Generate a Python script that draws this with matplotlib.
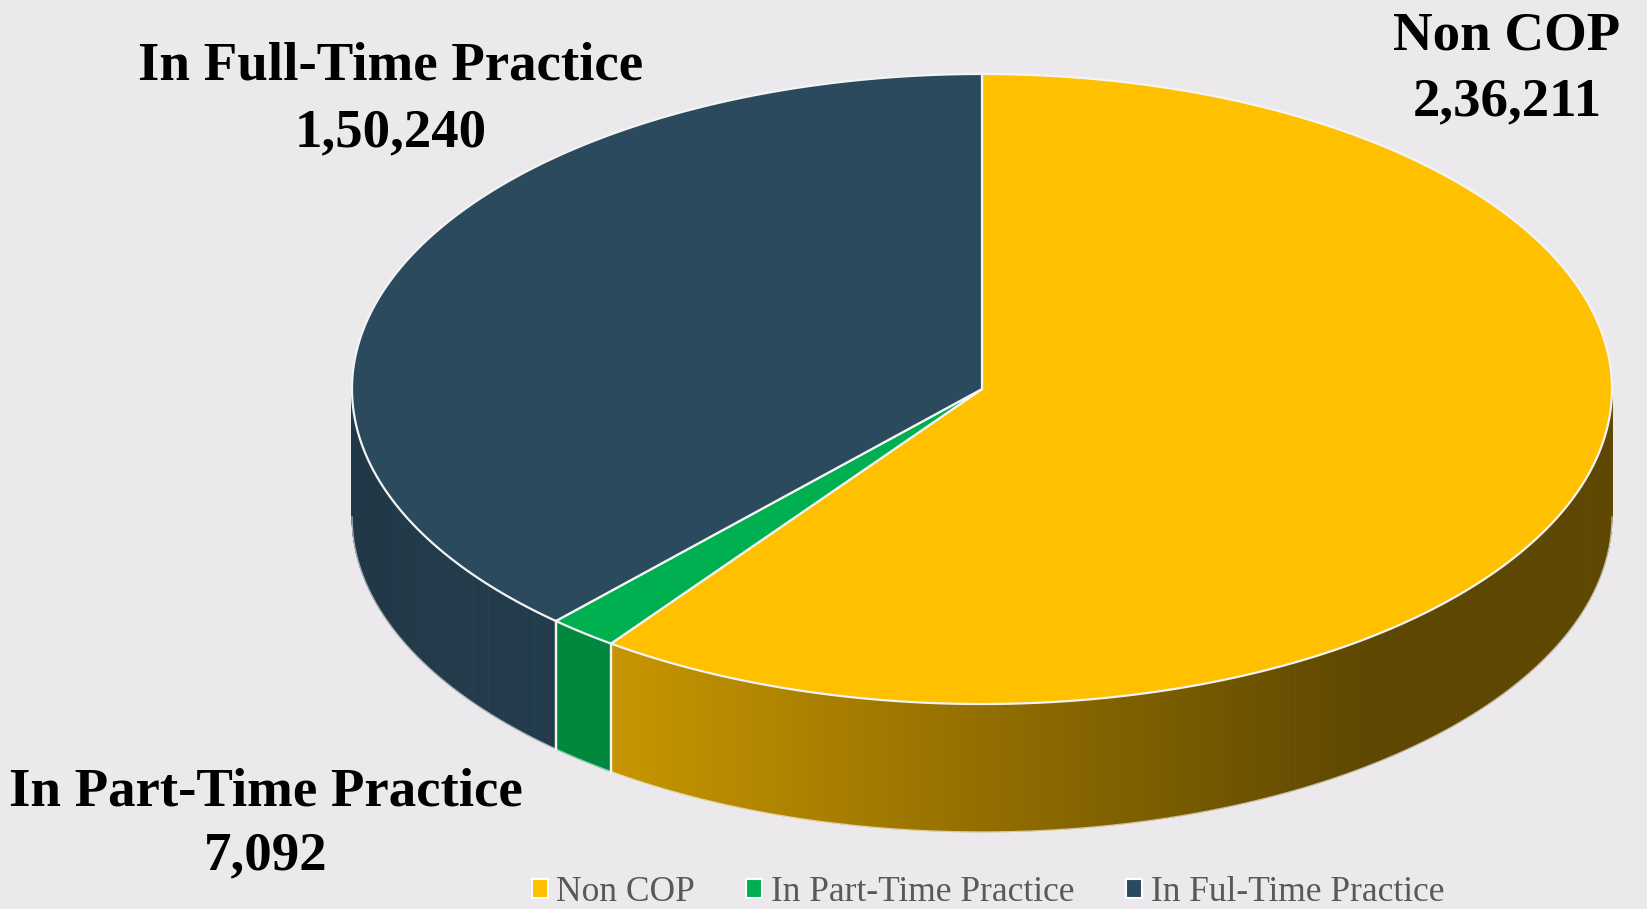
import numpy as np
import matplotlib.pyplot as plt
from matplotlib.patches import Polygon, Patch
from matplotlib.colors import to_rgb

# data
categories = ['Non COP', 'In Part-Time Practice', 'In Full-Time Practice']
values = [236211, 7092, 150240]
value_labels = ['2,36,211', '7,092', '1,50,240']
legend_labels = ['Non COP', 'In Part-Time Practice', 'In Ful-Time Practice']
colors = ['#FFC000', '#00B050', '#2B4A5E']

# side shading (left factor, right factor) per slice
side_shade = [(0.78, 0.37), (0.78, 0.78), (0.75, 0.80)]

BG = '#EBE9EC'
W, H = 1647, 909
cx, cy = 982, 389      # centre of top ellipse (pixels)
rx, ry = 630, 315      # ellipse radii
depth = 128            # thickness of the pie

fig = plt.figure(figsize=(W / 100, H / 100), dpi=100, facecolor=BG)
ax = fig.add_axes([0, 0, 1, 1])
ax.set_facecolor(BG)
ax.set_xlim(0, W)
ax.set_ylim(H, 0)
ax.axis('off')


def pt(theta, dy=0.0):
    t = np.radians(theta)
    return cx + rx * np.cos(t), cy - ry * np.sin(t) + dy


fracs = np.array(values) / sum(values)
ends = 90 - 360 * np.cumsum(fracs)
starts = np.r_[90, ends[:-1]]

# sides (front half only: -180..0 deg)
for i in range(len(values)):
    lo = max(ends[i], -180)
    hi = min(starts[i], 0)
    if hi <= lo:
        continue
    angs = np.linspace(lo, hi, 200)
    xs = [pt(a)[0] for a in angs]
    x0, x1 = min(xs), max(xs)
    span = max((x1 - x0) * 0.75, 1)
    base = np.array(to_rgb(colors[i]))
    fl, fr = side_shade[i]
    for a0, a1 in zip(angs[:-1], angs[1:]):
        p0, p1 = pt(a0), pt(a1)
        q0, q1 = pt(a0, depth), pt(a1, depth)
        xm = (p0[0] + p1[0]) / 2
        t = np.clip((xm - x0) / span, 0, 1)
        c = base * (fl + (fr - fl) * t)
        ax.add_patch(Polygon([p0, p1, q1, q0], closed=True, facecolor=c,
                             edgecolor=c, linewidth=0.6))

# white edges on the side
for a in list(starts) + list(ends):
    if -180 < a < 0:
        p, q = pt(a), pt(a, depth)
        ax.plot([p[0], q[0]], [p[1], q[1]], color='#F4F4F4', lw=1.6)
bot = np.linspace(-180, 0, 300)
ax.plot([pt(a, depth)[0] for a in bot], [pt(a, depth)[1] for a in bot],
        color='white', lw=1.0, alpha=0.6)

# top face
for i in range(len(values)):
    angs = np.linspace(starts[i], ends[i], 300)
    verts = [(cx, cy)] + [pt(a) for a in angs]
    ax.add_patch(Polygon(verts, closed=True, facecolor=colors[i],
                         edgecolor='#F4F4F4', linewidth=1.6, joinstyle='round'))

# data labels
label_xy = [(1507, 49, 115), (266, 806, 869), (391, 80, 146)]
for i, (x, y1, y2) in enumerate(label_xy):
    for txt, y in ((categories[i], y1), (value_labels[i], y2)):
        ax.text(x, y, txt, ha='center', va='baseline', fontsize=39.5,
                fontweight='bold', family='Liberation Serif', color='black')

# legend
handles = [Patch(facecolor=c, edgecolor='white', linewidth=1.5) for c in colors]
ax.legend(handles, legend_labels, loc='lower center', bbox_to_anchor=(988 / W, 0.0),
          ncol=3, frameon=False, prop={'family': 'Liberation Serif', 'size': 25.5},
          labelcolor='#595959', handlelength=0.45, handleheight=0.45,
          handletextpad=0.25, columnspacing=1.45, borderpad=0.0, borderaxespad=0.0)

fig.savefig('out.png', dpi=100, facecolor=BG)
